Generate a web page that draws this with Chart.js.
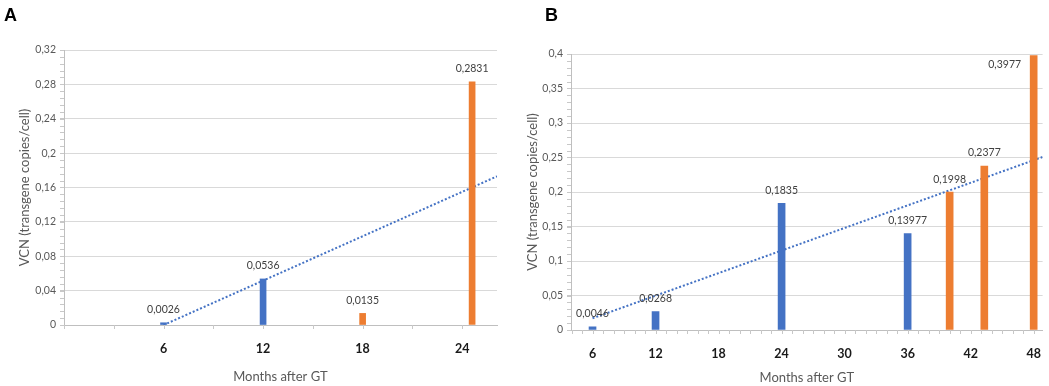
<!DOCTYPE html>
<html>
<head>
<meta charset="utf-8">
<script src="https://cdn.jsdelivr.net/npm/chart.js@4.4.1/dist/chart.umd.min.js"></script>
<style>
  body { margin: 0; background: #fff; width: 1049px; height: 386px; position: relative; overflow: hidden; }
  .panel { position: absolute; top: 0; }
  .tag { position: absolute; top: 6px; font: bold 18px "Liberation Sans", Arial, sans-serif; line-height: 18px; color: #000; }
</style>
</head>
<body>
<canvas id="chartA" class="panel" style="left:0" width="520" height="386"></canvas>
<canvas id="chartB" class="panel" style="left:520px" width="529" height="386"></canvas>
<div class="tag" style="left:4px">A</div>
<div class="tag" style="left:545px">B</div>
<script>
// panel A
const blueMonthsA = [6, 12];
const blueVcnA = [0.0026, 0.0536];
const orangeMonthsA = [18, 24.6];
const orangeVcnA = [0.0135, 0.2831];
const trendMonthsA = [6, 26.1];
const trendVcnA = [0, 0.173];
const xTicksA = [6, 12, 18, 24];

// panel B
const blueMonthsB = [6, 12, 24, 36];
const blueVcnB = [0.0046, 0.0268, 0.1835, 0.13977];
const orangeMonthsB = [40, 43.3, 48];
const orangeVcnB = [0.1998, 0.2377, 0.3977];
const trendMonthsB = [6, 48.85];
const trendVcnB = [0.017, 0.2507];
const xTicksB = [6, 12, 18, 24, 30, 36, 42, 48];

const BLUE = '#4472C4';
const ORANGE = '#ED7D31';
const GREY_TEXT = '#595959';
const FONT = 'Lato, "Liberation Sans", sans-serif';

const pts = (xs, ys) => xs.map((x, i) => ({x: x, y: ys[i]}));
const comma = v => String(+v.toFixed(5)).replace('.', ',');

// value labels above bars (Excel style, comma decimals)
const valueLabels = {
  id: 'valueLabels',
  afterDatasetsDraw(chart) {
    const ctx = chart.ctx;
    const area = chart.chartArea;
    ctx.save();
    ctx.font = '10.5px ' + FONT;
    ctx.fillStyle = '#404040';
    ctx.textAlign = 'center';
    ctx.textBaseline = 'middle';
    chart.data.datasets.forEach((ds, di) => {
      const meta = chart.getDatasetMeta(di);
      if (meta.type !== 'bar') return;
      meta.data.forEach((el, i) => {
        let x = el.x, y = el.y - 13;
        if (y < area.top + 8) { x = el.x - 29; y = el.y + 9; }
        ctx.fillText(comma(ds.data[i].y), x, y);
      });
    });
    ctx.restore();
  }
};

// small minor tick marks along both axes
const minorTicks = {
  id: 'minorTicks',
  afterDraw(chart, args, opts) {
    const ctx = chart.ctx;
    const {x, y} = chart.scales;
    const area = chart.chartArea;
    ctx.save();
    ctx.strokeStyle = '#c8c8c8';
    ctx.lineWidth = 1;
    ctx.beginPath();
    for (let v = y.min; v <= y.max + 1e-9; v += opts.yStep) {
      const py = Math.round(y.getPixelForValue(v)) + 0.5;
      ctx.moveTo(area.left - 4, py);
      ctx.lineTo(area.left, py);
    }
    for (let v = Math.ceil(x.min / opts.xStep) * opts.xStep; v <= x.max; v += opts.xStep) {
      const px = Math.round(x.getPixelForValue(v)) + 0.5;
      ctx.moveTo(px, area.bottom);
      ctx.lineTo(px, area.bottom + 4);
    }
    ctx.stroke();
    ctx.restore();
  }
};

function makeChart(id, cfg) {
  return new Chart(document.getElementById(id), {
    type: 'bar',
    data: {
      datasets: [
        {
          label: 'blue', data: pts(cfg.blueX, cfg.blueY), backgroundColor: BLUE,
          barThickness: cfg.barWidth, grouped: false, order: 1
        },
        {
          label: 'orange', data: pts(cfg.orangeX, cfg.orangeY), backgroundColor: ORANGE,
          barThickness: cfg.barWidth, grouped: false, order: 1
        },
        {
          type: 'line', label: 'trend', data: pts(cfg.trendX, cfg.trendY),
          borderColor: BLUE, borderWidth: 2, borderDash: [2, 2], pointRadius: 0,
          fill: false, order: 2
        }
      ]
    },
    options: {
      responsive: false,
      animation: false,
      layout: { padding: cfg.padding },
      plugins: {
        legend: { display: false },
        tooltip: { enabled: false },
        minorTicks: { xStep: cfg.xMinor, yStep: cfg.yMinor }
      },
      scales: {
        x: {
          type: 'linear',
          offset: false,
          min: cfg.xMin,
          max: cfg.xMax,
          afterBuildTicks: s => { s.ticks = cfg.xTicks.map(v => ({value: v})); },
          afterFit: s => { s.height = cfg.xHeight; },
          grid: { display: false, offset: false },
          border: { display: true, color: '#bfbfbf' },
          ticks: {
            padding: 8, autoSkip: false, maxRotation: 0,
            color: '#1a1a1a', font: { family: FONT, size: 12.5, weight: 'bold' },
            callback: v => String(v)
          },
          title: {
            display: true, text: 'Months after GT', color: GREY_TEXT,
            font: { family: FONT, size: 13 }, padding: { top: 0, bottom: cfg.xTitlePad }
          }
        },
        y: {
          min: 0,
          max: cfg.yMax,
          afterFit: s => { s.width = cfg.yWidth; },
          grid: { color: '#d9d9d9', tickLength: 4, tickColor: '#c8c8c8' },
          border: { display: true, color: '#bfbfbf' },
          ticks: {
            stepSize: cfg.yStep, padding: 4, color: GREY_TEXT,
            font: { family: FONT, size: 10.5 },
            callback: v => comma(v)
          },
          title: {
            display: true, text: 'VCN (transgene copies/cell)', color: GREY_TEXT,
            font: { family: FONT, size: 13 }, padding: { top: cfg.yTitlePad, bottom: 0 }
          }
        }
      }
    },
    plugins: [valueLabels, minorTicks]
  });
}

makeChart('chartA', {
  blueX: blueMonthsA, blueY: blueVcnA,
  orangeX: orangeMonthsA, orangeY: orangeVcnA,
  trendX: trendMonthsA, trendY: trendVcnA,
  xTicks: xTicksA, xMin: 0, xMax: 26.1, xMinor: 3,
  yMax: 0.32, yStep: 0.04, yMinor: 0.008,
  barWidth: 6,
  padding: { top: 50, right: 23, left: 0, bottom: 0 },
  yWidth: 64, xHeight: 61, xTitlePad: 1, yTitlePad: 17
});

makeChart('chartB', {
  blueX: blueMonthsB, blueY: blueVcnB,
  orangeX: orangeMonthsB, orangeY: orangeVcnB,
  trendX: trendMonthsB, trendY: trendVcnB,
  xTicks: xTicksB, xMin: 3.95, xMax: 48.85, xMinor: 1,
  yMax: 0.4, yStep: 0.05, yMinor: 0.01,
  barWidth: 7,
  padding: { top: 54, right: 4, left: 0, bottom: 0 },
  yWidth: 51, xHeight: 56, xTitlePad: 0, yTitlePad: 5
});
</script>
</body>
</html>
